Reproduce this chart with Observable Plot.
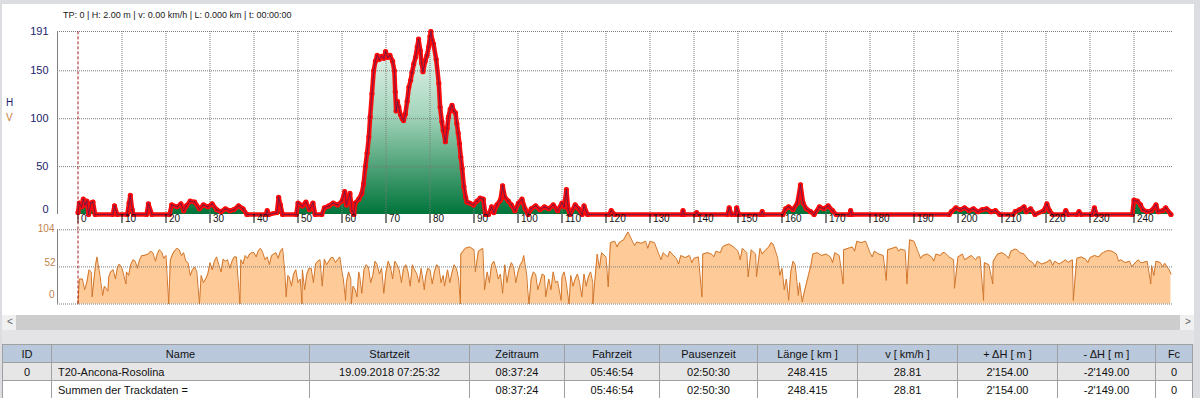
<!DOCTYPE html>
<html>
<head>
<meta charset="utf-8">
<script src="https://cdn.jsdelivr.net/npm/d3@7"></script>
<script src="https://cdn.jsdelivr.net/npm/@observablehq/plot@0.6"></script>
<style>
html, body { margin:0; padding:0; background:#dcdde1; }
#root { position:relative; width:1200px; height:398px; overflow:hidden; background:#dcdde1; font-family:"Liberation Sans", Arial, sans-serif; }
.abs { position:absolute; }
#panel { left:2px; top:4px; width:1192px; height:311px; background:#ffffff; }
#status { left:63px; top:10px; font-size:9px; color:#202020; white-space:nowrap; }
#lblH { left:6px; top:97px; font-size:10px; color:#1b1b6b; }
#lblV { left:6px; top:112px; font-size:10px; color:#c8783c; }
#scroll { left:2px; top:315px; width:1192px; height:15px; background:#f0f0f0; }
#track { left:14px; top:0px; width:1164px; height:15px; background:#cdcdcd; }
#arrL { left:5px; top:1px; font-size:10px; color:#606060; }
#arrR { left:1183px; top:1px; font-size:10px; color:#606060; }
#gap { left:2px; top:330px; width:1192px; height:14px; background:#e4e4e6; }
#tbl { left:2px; top:344px; }
table { border-collapse:collapse; table-layout:fixed; font-size:11px; font-family:"Liberation Sans", Arial, sans-serif; color:#111; }
td, th { border:1px solid #a0a0a0; height:17px; padding:0 6px; text-align:center; white-space:nowrap; overflow:hidden; font-weight:normal; }
th { background:#bac8db; }
tr.r1 td { background:#e6e6e6; }
tr.r2 td { background:#ffffff; }
td.left { text-align:left; }
</style>
</head>
<body>
<div id="root">
  <div id="panel" class="abs"></div>
  <div id="status" class="abs"></div>
  <div id="lblH" class="abs">H</div>
  <div id="lblV" class="abs">V</div>
  <div id="scroll" class="abs"><div id="track" class="abs"></div><div id="arrL" class="abs">&lt;</div><div id="arrR" class="abs">&gt;</div></div>
  <div id="gap" class="abs"></div>
  <div id="tbl" class="abs"></div>
</div>
<script>
// ---------- data ----------
const statusText = "TP: 0 | H: 2.00 m | v: 0.00 km/h | L: 0.000 km | t: 00:00:00";

const elevKm = [0,0.3,0.8,1.2,1.6,2.0,2.4,2.9,3.4,3.9,7.9,8.3,8.9,11.2,11.6,11.9,12.3,12.6,15.6,16.0,16.8,20.8,21.3,22.5,23.4,24.0,24.6,25.5,26.5,27.6,28.5,29.5,30.5,31.5,32.5,33.5,34.5,35.4,36.5,37.5,38.4,42.7,43.0,43.3,45.2,45.6,46.0,46.5,49.6,50.0,51.0,51.8,52.6,53.4,53.9,55.4,56.0,57.0,58.0,59.0,60.0,60.6,61.0,61.8,62.3,62.7,63.0,63.8,64.5,
  64.9,65.3,65.7,66.1,66.4,66.8,67.2,67.6,68.0,68.5,69.0,69.5,69.9,70.4,70.9,71.5,71.9,72.1,72.3,72.6,72.9,73.3,73.7,74.0,74.4,74.8,75.2,75.6,75.9,76.3,76.7,77.1,77.4,77.8,78.1,78.4,78.9,79.3,79.7,80.0,80.2,80.5,80.8,81.4,82.0,82.3,82.7,83.0,83.5,83.9,84.2,84.6,85.0,85.4,85.8,86.1,86.4,86.7,87.0,87.3,87.7,88.1,88.4,89.0,89.9,90.7,91.4,92.1,92.6,93.3,94.0,94.5,95.2,96.0,96.5,97.0,97.8,98.5,99.3,100.1,100.9,101.6,102.3,103.0,104.0,105.0,106.0,107.0,108.0,109.0,110.0,110.5,111.0,111.4,111.8,113.0,113.8,114.6,115.0,115.8,
  120.7,121.2,122.0,137.2,137.5,137.8,140.3,140.6,140.9,147.6,148.0,148.5,149.4,149.7,150.2,155.2,155.5,155.8,160.2,160.8,161.5,162.5,163.5,164.2,164.8,165.5,166.5,167.3,168.5,169.5,170.5,171.5,172.3,175.3,175.6,175.9,198.0,198.5,199.5,200.5,201.5,202.5,203.5,204.5,205.5,206.5,207.5,208.5,209.5,212.5,213.0,214.0,215.0,215.5,216.5,217.5,219.5,220.2,220.8,221.5,224.0,224.5,225.0,227.0,227.5,228.0,230.5,231.0,231.5,239.6,240.0,240.8,241.5,242.0,243.0,244.0,245.0,245.5,246.5,247.2,248.4];
const elevH = [2,12,8,16,10,14,0,12,13,0,0,9,0,0,12,20,5,0,0,11,0,0,10,8,11,4,9,14,13,6,10,8,11,5,3,6,4,5,9,6,0,0,4,0,2,18,10,0,0,12,9,13,5,12,0,0,7,9,12,10,14,24,10,22,4,0,12,16,22,
  32,50,64,81,102,126,150,160,166,162,165,163,170,164,166,160,150,128,108,118,112,104,100,98,105,118,133,140,148,157,164,175,183,171,158,149,160,166,175,186,191,182,178,162,137,112,97,88,76,90,102,110,114,108,106,95,85,74,60,48,29,18,13,12,10,14,17,16,0,0,8,2,10,15,30,18,14,10,4,12,16,6,0,6,9,5,8,6,10,4,12,8,26,6,0,10,6,0,9,0,
  0,4,0,0,4,0,0,2,0,0,7,0,0,7,0,0,3,0,0,6,8,5,12,31,12,6,3,0,8,6,9,4,0,0,4,0,0,3,7,5,7,4,6,3,5,6,3,4,0,0,3,5,8,3,6,0,4,11,4,0,0,4,0,0,3,0,0,7,0,0,15,14,10,5,3,4,10,3,4,7,0];

// speed [km/h], one reading per km (km 0 … 248)
const speedPerKm = [
  0,35,30,45,55,40,25,38,48,52,
  50,45,55,60,62,68,70,72,70,73,
  68,62,75,76,72,58,48,45,40,35,
  58,60,55,63,62,60,66,62,68,70,
  72,75,72,66,68,72,74,45,38,42,
  30,48,42,50,56,62,63,60,65,62,
  45,30,35,20,40,48,52,40,55,50,
  45,52,60,48,50,45,55,42,50,38,
  48,45,52,40,48,44,50,70,78,80,
  76,74,78,45,55,50,42,55,48,52,
  45,60,40,35,42,30,40,35,45,32,
  38,28,40,35,30,42,38,30,70,72,
  66,86,88,86,90,101,88,87,85,88,
  88,86,70,72,66,70,64,68,65,68,
  64,66,70,72,70,74,72,82,84,80,
  74,78,72,76,70,78,74,80,84,65,
  50,35,45,55,30,15,40,70,72,68,
  70,66,72,68,76,78,80,88,86,88,
  72,74,70,68,76,78,80,77,75,90,
  88,72,68,70,66,70,68,72,66,62,
  66,70,64,68,62,66,58,55,60,70,
  72,68,74,77,72,70,62,58,60,56,
  58,62,60,56,60,58,62,64,66,63,
  65,68,66,72,75,74,70,62,58,60,
  56,62,58,60,54,60,58,57,48];
// dips / peaks read between the km marks
const speedDipKm = [0.3,3.2,5.6,6.8,10.9,20.6,27.6,36.8,41.5,47.3,50.9,55.5,60.8,62.1,63.4,69.5,78.7,83.3,86.9,90.3,92.4,96.5,102.5,106.3,109.8,111.6,114.5,117.0,120.5,141.8,152.3,154.2,161.5,163.7,164.6,173.9,183.7,188.4,199.2,205.8,207.9,226.2,243.8,248.4];
const speedDipV  = [35,10,12,18,28,0,0,0,78,10,0,25,5,0,10,15,20,25,0,45,20,15,0,10,5,0,10,0,24,10,38,38,5,12,3,28,33,28,22,5,28,5,28,42];
// half-km readings (jitter of the trace)
const speedHalfKm = [1.5,2.5,4.3,5.2,7.4,8.5,9.4,11.5,12.5,13.5,14.5,16.5,17.6,18.5,19.5,21.5,22.5,23.5,24.5,25.5,26.5,28.5,29.5,30.5,31.5,32.5,33.5,34.5,35.5,37.5,38.5,39.5,40.5,42.5,43.5,44.5,45.5,46.5,
  47.7,48.5,49.5,50.5,51.5,52.5,53.5,54.5,56.5,57.5,58.5,59.5,60.3,61.5,62.5,63.8,64.5,65.5,66.5,67.5,68.5,70.5,71.5,72.5,73.5,74.5,75.5,76.5,77.5,79.5,80.5,81.5,82.5,84.5,85.5,86.5,
  93.5,94.5,95.5,97.5,98.5,99.5,100.5,101.3,102.2,103.5,104.5,105.5,107.5,108.5,110.5,112.5,113.5,115.5,116.5,
  118.5,122.5,126.5,129.5,132.5,134.5,136.5,139.5,144.5,146.5,150.5,155.5,157.5,159.5,160.5,162.5,
  166.6,171.5,176.5,180.5,186.5,191.5,194.5,196.5,201.5,204.5,211.5,213.5,217.5,221.5,224.5,229.5,232.5,236.5,239.5,241.5,244.5,246.5];
const speedHalfV = [20,48,66,30,45,35,56,40,62,50,68,74,60,76,64,70,78,68,60,40,52,30,42,48,66,45,60,50,66,56,64,72,66,62,55,70,64,78,
  40,25,48,35,20,50,30,60,55,65,58,66,35,45,25,45,15,55,30,60,42,60,35,55,30,55,25,48,30,50,28,55,30,30,55,35,
  30,60,35,30,58,30,55,68,20,45,20,42,20,30,45,25,42,25,45,
  50,80,82,78,62,74,56,58,66,80,62,70,86,40,20,60,
  55,58,74,66,74,64,60,72,62,66,64,76,52,54,62,58,70,60,52,58,40,52];

const hTicks = [191,150,100,50];
const vTicks = [104,52,0];
const kmTicks = d3.range(0, 250, 10);

const tableHead = ["ID","Name","Startzeit","Zeitraum","Fahrzeit","Pausenzeit","Länge  [ km ]","v  [ km/h ]","+ ΔH  [ m ]","- ΔH  [ m ]","Fc"];
const tableRow1 = ["0","T20-Ancona-Rosolina","19.09.2018 07:25:32","08:37:24","05:46:54","02:50:30","248.415","28.81","2'154.00","-2'149.00","0"];
const tableRow2 = ["","Summen der Trackdaten =","","08:37:24","05:46:54","02:50:30","248.415","28.81","2'154.00","-2'149.00","0"];
const colWidths = [49,258,160,95,95,98,100,100,100,98,37];

// ---------- build ----------
document.getElementById("status").textContent = statusText;
const root = document.getElementById("root");
const elev = elevKm.map((k, i) => ({km: k, h: elevH[i]}));
const speed = speedPerKm.map((v, i) => ({km: i, v}))
  .concat(speedDipKm.map((k, i) => ({km: k, v: speedDipV[i]})))
  .concat(speedHalfKm.map((k, i) => ({km: k, v: speedHalfV[i]})))
  .sort((a, b) => a.km - b.km);

const xDomain = [-4.66, 248.75];
const grid = {stroke: "#7a7a7a", strokeDasharray: "1,1", strokeWidth: 1};
const font = {background: "transparent", overflow: "visible", fontFamily: "Liberation Sans, Arial, sans-serif"};

const elevPlot = Plot.plot({
  width: 1200, height: 232,
  marginLeft: 57, marginRight: 28, marginTop: 31, marginBottom: 18,
  x: {domain: xDomain, axis: null},
  y: {domain: [0, 191], axis: null},
  style: font,
  marks: [
    Plot.area(elev, {x1: "km", y1: d => 0, y2: "h", fill: "#00a051", curve: "linear"}),
    Plot.ruleY(hTicks, grid),
    Plot.ruleX(kmTicks.filter(d => d > 0), {x: d => d, y1: d => 0, y2: d => 191, ...grid}),
    Plot.ruleX([xDomain[0]], {x: d => d, y1: d => 0, y2: d => 191, stroke: "#808080"}),
    Plot.line(elev, {x: "km", y: "h", stroke: "#ff0a0a", strokeWidth: 4.5, strokeLinejoin: "round", strokeLinecap: "round"}),
    Plot.dot(elev, {x: "km", y: "h", r: 2.6, fill: "#ff0a0a"}),
    Plot.line(elev, {x: "km", y: "h", stroke: "#23236a", strokeWidth: 0.6}),
    Plot.dot(elev, {x: "km", y: "h", r: 0.9, fill: "#8a1436"}),
    Plot.ruleX(kmTicks, {x: d => d, y1: d => 0, y2: d => -9.4, stroke: "#000"}),
    Plot.text(kmTicks, {x: d => d, text: d => String(d), frameAnchor: "bottom", textAnchor: "start", dx: 3, dy: 7, fontSize: 10, fill: "#111"}),
    Plot.ruleX([0], {x: d => d, y1: d => -16, y2: d => 191, stroke: "#a31a1a", strokeDasharray: "3,2"}),
    Plot.text(hTicks, {y: d => d, text: d => String(d), frameAnchor: "left", textAnchor: "end", dx: -9, fontSize: 11, fill: "#1b1b6b"}),
    Plot.text([0], {y: d => d, text: d => String(d), frameAnchor: "left", textAnchor: "end", dx: -9, dy: -5, fontSize: 11, fill: "#1b1b6b"})
  ]
});

const ys = elevPlot.scale("y");
const gy1 = ys.apply(191), gy2 = ys.apply(0);
d3.select(elevPlot).insert("defs", ":first-child").html(
  `<linearGradient id="elevGrad" gradientUnits="userSpaceOnUse" x1="0" y1="${gy1}" x2="0" y2="${gy2}">
     <stop offset="0" stop-color="#f6fbf8"/>
     <stop offset="0.45" stop-color="#a6d6bd"/>
     <stop offset="1" stop-color="#00743a"/>
   </linearGradient>`);
d3.select(elevPlot).selectAll('[fill="#00a051"]').attr("fill", "url(#elevGrad)");
elevPlot.style.position = "absolute"; elevPlot.style.left = "0px"; elevPlot.style.top = "0px";
root.appendChild(elevPlot);

const speedPlot = Plot.plot({
  width: 1200, height: 91,
  marginLeft: 57, marginRight: 28, marginTop: 7.3, marginBottom: 9.5,
  x: {domain: xDomain, axis: null},
  y: {domain: [0, 104], axis: null},
  style: font,
  marks: [
    Plot.area(speed, {x1: "km", y1: d => 0, y2: "v", fill: "#fdca98", curve: "linear"}),
    Plot.line(speed, {x: "km", y: "v", stroke: "#d2762a", strokeWidth: 1}),
    Plot.ruleY(vTicks, grid),
    Plot.ruleX([xDomain[0]], {x: d => d, y1: d => 0, y2: d => 104, stroke: "#808080"}),
    Plot.ruleX([0], {x: d => d, y1: d => 0, y2: d => 104, stroke: "#a31a1a", strokeDasharray: "3,2"}),
    Plot.text([104], {y: d => d, text: d => String(d), frameAnchor: "left", textAnchor: "end", dx: -3, dy: -1, fontSize: 10, fill: "#c0844e"}),
    Plot.text([52], {y: d => d, text: d => String(d), frameAnchor: "left", textAnchor: "end", dx: -2, dy: -4.5, fontSize: 10, fill: "#c0844e"}),
    Plot.text([0], {y: d => d, text: d => String(d), frameAnchor: "left", textAnchor: "end", dx: -3, dy: -9, fontSize: 10, fill: "#c0844e"})
  ]
});
speedPlot.style.position = "absolute"; speedPlot.style.left = "0px"; speedPlot.style.top = "222px";
root.appendChild(speedPlot);

// ---------- table ----------
const tbl = d3.select("#tbl").append("table");
const cg = tbl.append("colgroup");
colWidths.forEach(w => cg.append("col").style("width", w + "px"));
tbl.append("tr").selectAll("th").data(tableHead).join("th").text(d => d);
[[tableRow1, "r1"], [tableRow2, "r2"]].forEach(([row, cls]) => {
  tbl.append("tr").attr("class", cls).selectAll("td").data(row).join("td")
    .attr("class", (d, i) => i === 1 ? "left" : null).text(d => d);
});
tbl.style("width", d3.sum(colWidths) + "px");
</script>
</body>
</html>
